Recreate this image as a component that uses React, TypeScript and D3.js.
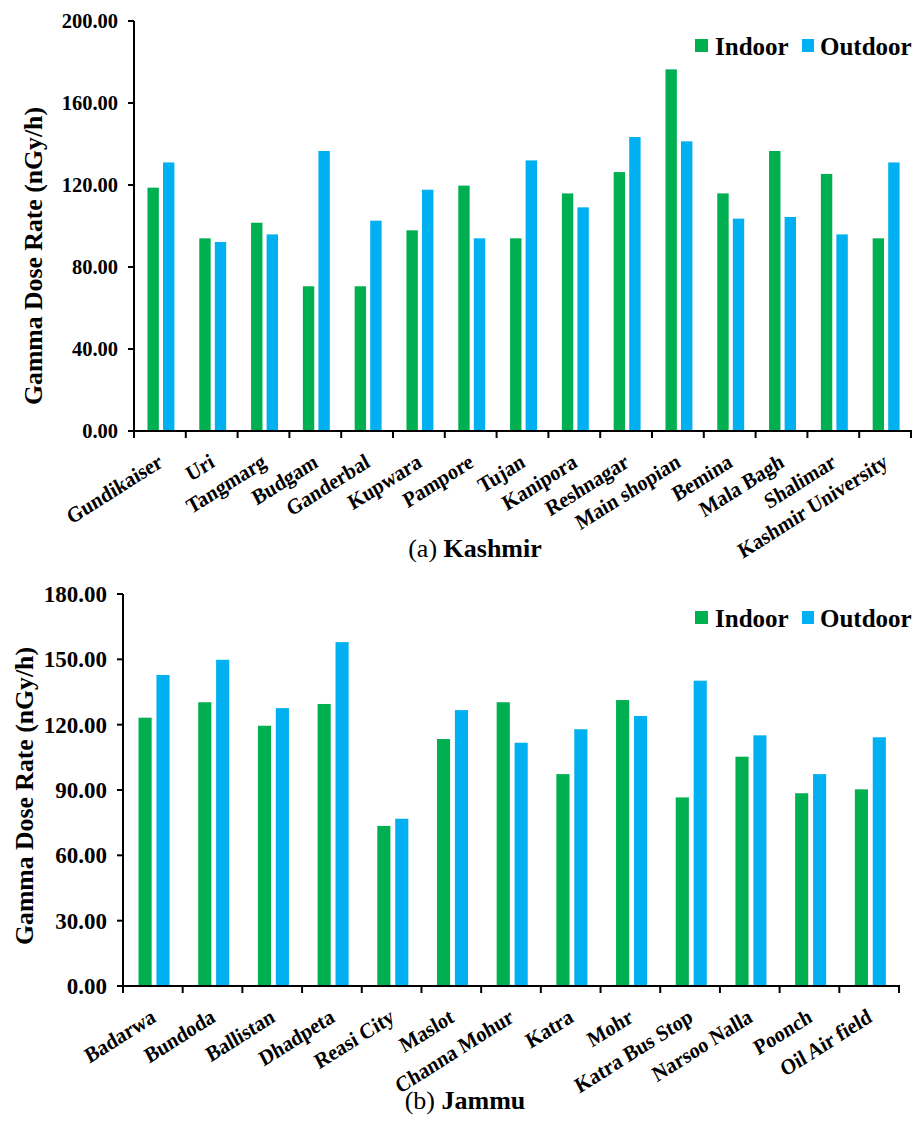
import React from "react";
import * as d3 from "d3";

// Kashmir sites
const kashmirSites = [
  "Gundikaiser", "Uri", "Tangmarg", "Budgam", "Ganderbal", "Kupwara", "Pampore",
  "Tujan", "Kanipora", "Reshnagar", "Main shopian", "Bemina", "Mala Bagh",
  "Shalimar", "Kashmir University",
];
const kashmirIndoor = [118.7, 94.0, 101.6, 70.6, 70.6, 97.9, 119.7, 94.0, 115.9, 126.3, 176.4, 115.9, 136.6, 125.4, 94.0];
const kashmirOutdoor = [131.0, 92.2, 95.9, 136.6, 102.6, 117.7, 94.0, 132.0, 109.1, 143.4, 141.3, 103.6, 104.4, 95.9, 131.0];
const kashmirTicks = [0, 40, 80, 120, 160, 200];

// Jammu sites
const jammuSites = [
  "Badarwa", "Bundoda", "Ballistan", "Dhadpeta", "Reasi City", "Maslot",
  "Channa Mohur", "Katra", "Mohr", "Katra Bus Stop", "Narsoo Nalla", "Poonch",
  "Oil Air field",
];
const jammuIndoor = [123.2, 130.3, 119.5, 129.5, 73.5, 113.4, 130.3, 97.3, 131.3, 86.6, 105.3, 88.5, 90.3];
const jammuOutdoor = [142.8, 149.8, 127.6, 157.9, 76.8, 126.7, 111.7, 117.9, 124.0, 140.2, 115.1, 97.3, 114.2];
const jammuTicks = [0, 30, 60, 90, 120, 150, 180];

const seriesNames = ["Indoor", "Outdoor"];
const seriesColors = ["#00B050", "#00B0F0"];

const FONT = "'Liberation Serif', 'Times New Roman', serif";

type PanelProps = {
  sites: string[];
  indoor: number[];
  outdoor: number[];
  ticks: number[];
  left: number;
  right: number;
  top: number;
  bottom: number;
  tickFont: number;
  titleX: number;
  titleY: number;
  legendY: number;
  captionPrefix: string;
  captionName: string;
  captionX: number;
  captionY: number;
};

function Panel(p: PanelProps) {
  const maxV = p.ticks[p.ticks.length - 1];
  const y = d3.scaleLinear().domain([0, maxV]).range([p.bottom, p.top]);
  const x0 = d3.scaleBand<string>().domain(p.sites).range([p.left, p.right]).padding(0);
  const bw = x0.bandwidth();
  const x1 = d3
    .scaleBand<string>()
    .domain(seriesNames)
    .range([0.26 * bw, 0.78 * bw])
    .paddingInner(0.267)
    .paddingOuter(0);
  const fmt = d3.format(".2f");
  const boundaries = p.sites.map((s) => x0(s) as number).concat([p.right]);

  return (
    <g>
      {/* bars */}
      {p.sites.map((s, i) => {
        const vals = [p.indoor[i], p.outdoor[i]];
        return (
          <g key={s}>
            {vals.map((v, j) => (
              <rect
                key={j}
                x={(x0(s) as number) + (x1(seriesNames[j]) as number)}
                y={y(v)}
                width={x1.bandwidth()}
                height={p.bottom - y(v)}
                fill={seriesColors[j]}
              />
            ))}
          </g>
        );
      })}

      {/* y axis */}
      <line x1={p.left} x2={p.left} y1={p.top} y2={p.bottom} stroke="#000" strokeWidth={2} />
      {p.ticks.map((t) => (
        <g key={t}>
          <line x1={p.left - 6} x2={p.left} y1={y(t)} y2={y(t)} stroke="#000" strokeWidth={2} />
          <text
            x={p.left - 16}
            y={y(t)}
            dy="0.35em"
            textAnchor="end"
            fontFamily={FONT}
            fontWeight="bold"
            fontSize={p.tickFont}
          >
            {fmt(t)}
          </text>
        </g>
      ))}

      {/* x axis */}
      <line x1={p.left - 1} x2={p.right + 1} y1={p.bottom} y2={p.bottom} stroke="#000" strokeWidth={2} />
      {boundaries.map((bx, i) => (
        <line key={i} x1={bx} x2={bx} y1={p.bottom} y2={p.bottom + 7} stroke="#000" strokeWidth={2} />
      ))}
      {p.sites.map((s) => (
        <text
          key={s}
          transform={`translate(${(x0(s) as number) + bw / 2 + 4},${p.bottom + 35}) scale(1,1.1) rotate(-30)`}
          textAnchor="end"
          fontFamily={FONT}
          fontWeight="bold"
          fontSize={20}
        >
          {s}
        </text>
      ))}

      {/* y title */}
      <text
        transform={`translate(${p.titleX},${p.titleY}) rotate(-90)`}
        textAnchor="middle"
        dy="0.35em"
        fontFamily={FONT}
        fontWeight="bold"
        fontSize={25}
        textLength={298}
        lengthAdjust="spacingAndGlyphs"
      >
        Gamma Dose Rate (nGy/h)
      </text>

      {/* legend */}
      <rect x={695} y={p.legendY - 16} width={13} height={13} fill={seriesColors[0]} />
      <text x={715} y={p.legendY} fontFamily={FONT} fontWeight="bold" fontSize={25}>
        {seriesNames[0]}
      </text>
      <rect x={802} y={p.legendY - 16} width={12} height={13} fill={seriesColors[1]} />
      <text x={820} y={p.legendY} fontFamily={FONT} fontWeight="bold" fontSize={25}>
        {seriesNames[1]}
      </text>

      {/* panel caption */}
      <text x={p.captionX} y={p.captionY} textAnchor="middle" fontFamily={FONT} fontSize={26}>
        <tspan>{p.captionPrefix} </tspan>
        <tspan fontWeight="bold">{p.captionName}</tspan>
      </text>
    </g>
  );
}

export default function App() {
  return (
    <svg
      width={917}
      height={1126}
      style={{ position: "absolute", left: 0, top: 0, background: "#fff" }}
    >
      <rect width={917} height={1126} fill="#fff" />
      <Panel
        sites={kashmirSites}
        indoor={kashmirIndoor}
        outdoor={kashmirOutdoor}
        ticks={kashmirTicks}
        left={134}
        right={911}
        top={21}
        bottom={431}
        tickFont={20.5}
        titleX={33}
        titleY={256}
        legendY={55}
        captionPrefix="(a)"
        captionName="Kashmir"
        captionX={475}
        captionY={557}
      />
      <Panel
        sites={jammuSites}
        indoor={jammuIndoor}
        outdoor={jammuOutdoor}
        ticks={jammuTicks}
        left={123}
        right={899}
        top={594}
        bottom={986}
        tickFont={23}
        titleX={24}
        titleY={796}
        legendY={627}
        captionPrefix="(b)"
        captionName="Jammu"
        captionX={465}
        captionY={1109}
      />
    </svg>
  );
}
